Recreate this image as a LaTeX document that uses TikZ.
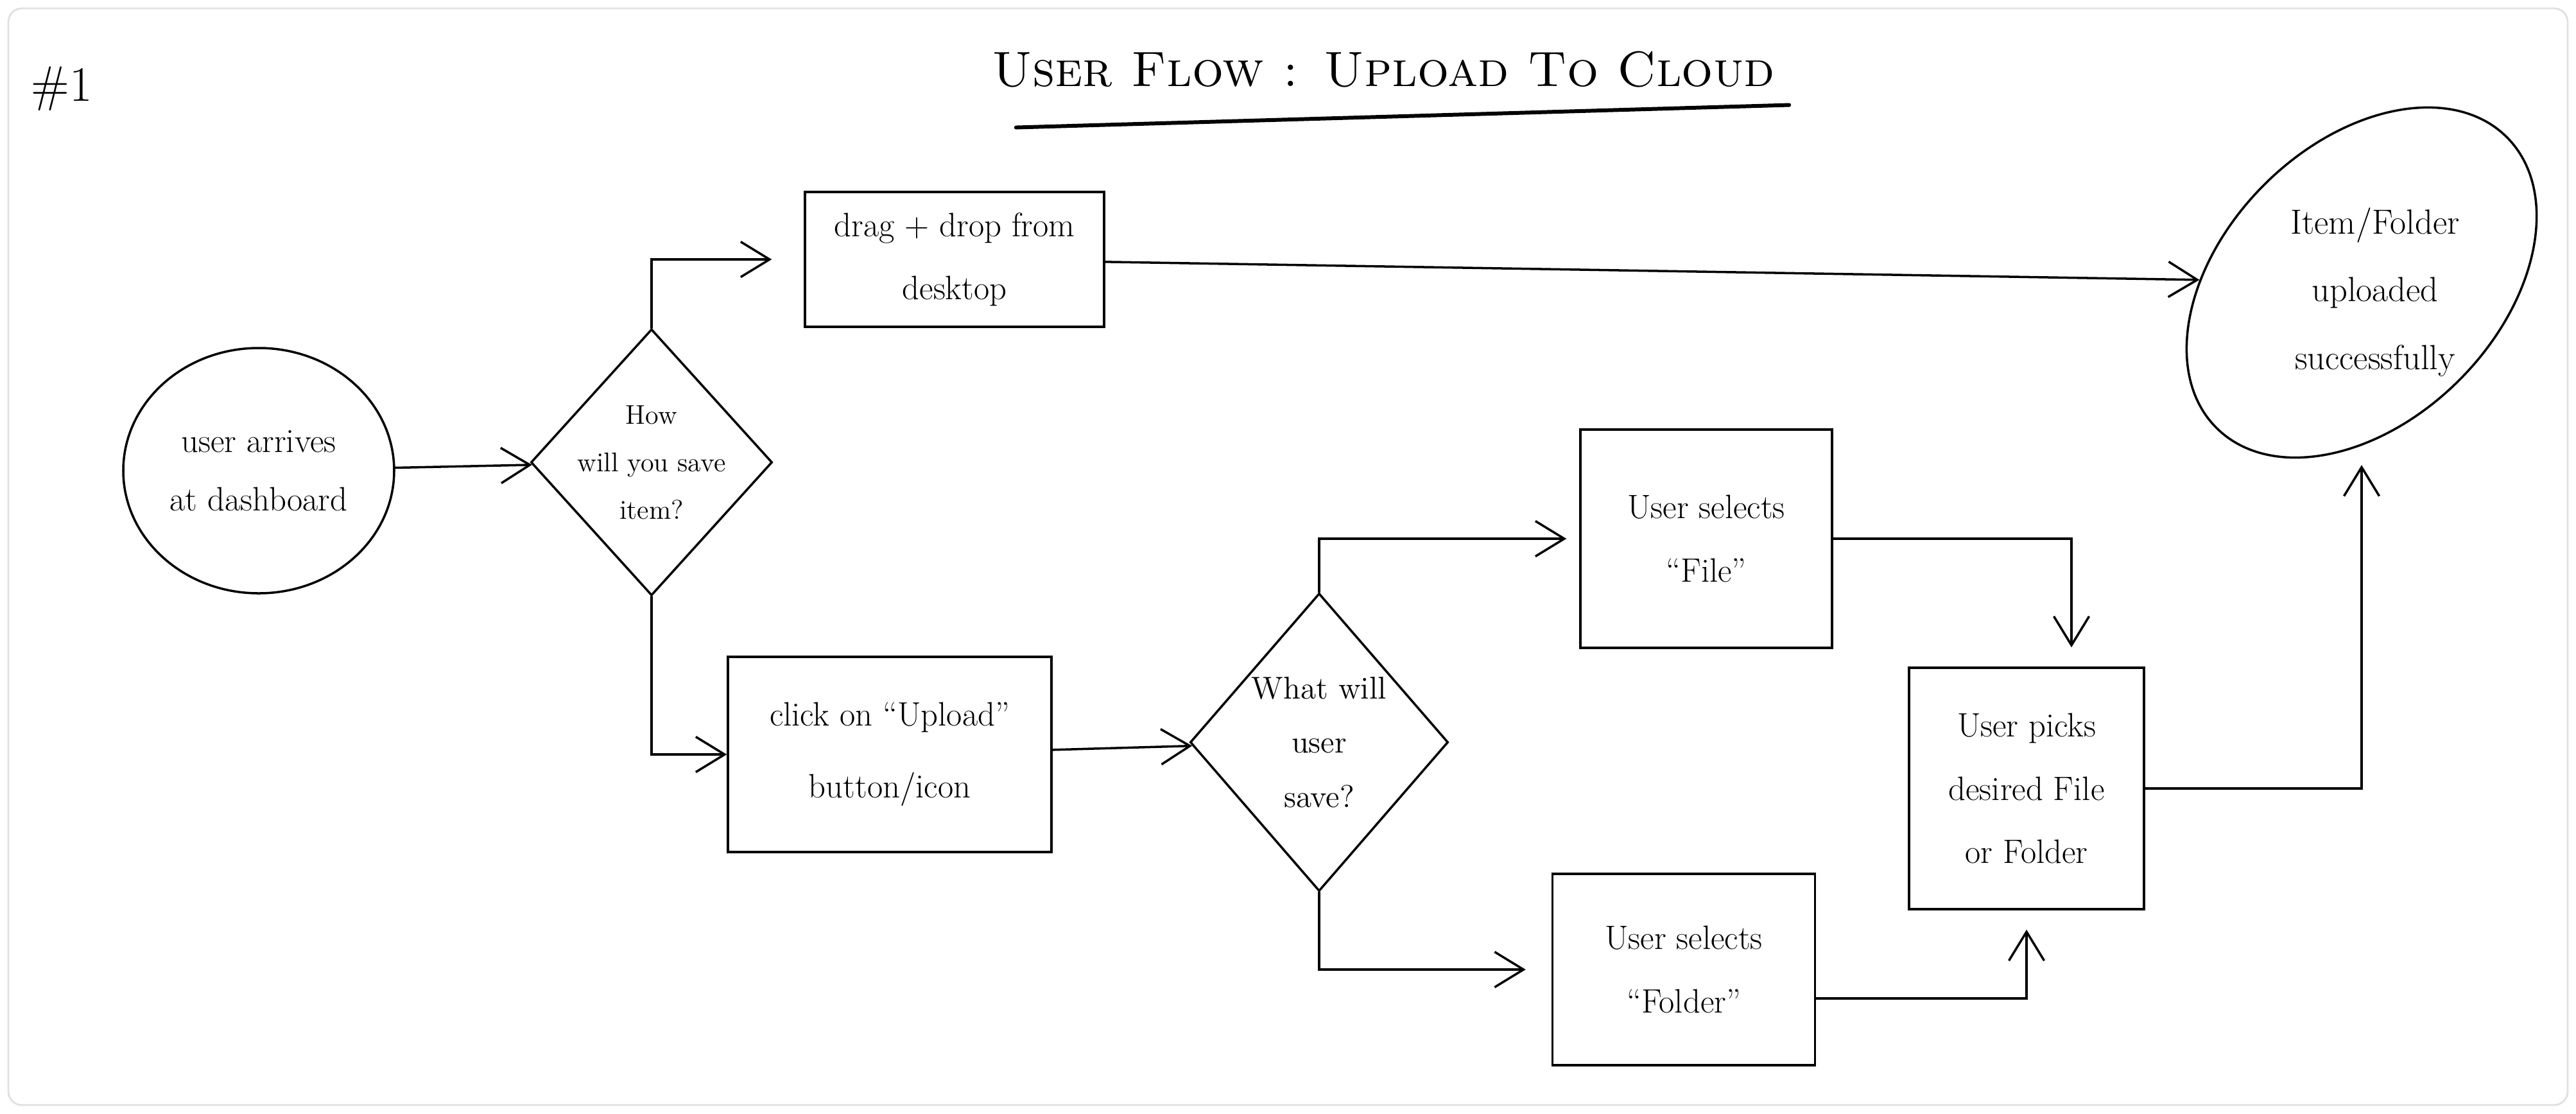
\documentclass[tikz,border=0pt]{standalone}
\usepackage{tikz}
\usetikzlibrary{
    arrows.meta,
    positioning,
    shapes.geometric
}
\tikzset{
    % --- Process step (plain rectangle) ---
    process box/.style = {
        rectangle, draw, line width=1pt,
        inner sep=2pt, align=center,
        font=\fontsize{15}{28}\selectfont
    },
    % --- Decision diamond ---
    decision/.style = {
        diamond, draw, line width=1pt,
        inner sep=0pt, align=center
    },
    % --- Start / end ellipse ---
    terminal/.style = {
        ellipse, draw, line width=1pt,
        inner sep=0pt, align=center,
        font=\fontsize{15}{26}\selectfont
    },
    % --- Flow arrow ---
    flow/.style = {
        ->, line width=1pt
    },
    % --- Sheet frame ---
    sheet frame/.style = {
        draw=black!12, line width=0.8pt, rounded corners=6pt
    }
}

\begin{document}
\begin{tikzpicture}[
    >={Straight Barb[length=4.5mm,width=5.5mm]},
    line cap=round
]

\useasboundingbox (0,0) rectangle (40.13,-17.34);
\draw[sheet frame] (0.13,-0.13) rectangle (40.0,-17.21);

% ---------------------------------------------------------
% 1. Heading
% ---------------------------------------------------------
\node[font=\fontsize{22}{22}\selectfont] (sheetno) at (0.96,-1.38) {\#1};
\node[font=\fontsize{22}{26}\selectfont\scshape] (title) at (21.55,-1.08)
    {User Flow : Upload To Cloud};
\draw[line width=1.7pt] ([xshift=0.5cm,yshift=-0.5cm]title.south west)
    -- ([xshift=0.1cm,yshift=-0.15cm]title.south east);

% ---------------------------------------------------------
% 2. Start and first decision
% ---------------------------------------------------------
\node[terminal, minimum width=4.22cm, minimum height=3.82cm] (start) at (4.03,-7.33)
    {user arrives\\at dashboard};
\node[decision, aspect=0.9, inner sep=-3pt, minimum width=3.76cm, minimum height=4.15cm,
    font=\fontsize{12}{21}\selectfont] (howsave) at (10.15,-7.2)
    {How\\will you save\\item?};

% ---------------------------------------------------------
% 3. The two ways to upload
% ---------------------------------------------------------
\node[process box, minimum width=4.66cm, minimum height=2.1cm] (dragdrop) at (14.87,-4.04)
    {drag + drop from\\desktop};
\node[process box, minimum width=5.04cm, minimum height=3.04cm,
    font=\fontsize{15}{32}\selectfont] (clickup) at (13.86,-11.75)
    {click on ``Upload''\\button/icon};
\node[decision, aspect=0.87, inner sep=-2pt, minimum width=4.02cm, minimum height=4.64cm,
    font=\fontsize{14}{24}\selectfont] (whatsave) at (20.55,-11.56)
    {What will\\user\\save?};

% ---------------------------------------------------------
% 4. File or folder
% ---------------------------------------------------------
\node[process box, minimum width=3.92cm, minimum height=3.4cm] (selfile) at (26.58,-8.39)
    {User selects\\``File''};
\node[process box, minimum width=4.09cm, minimum height=2.98cm] (selfolder) at (26.23,-15.10)
    {User selects\\``Folder''};
\node[process box, minimum width=3.66cm, minimum height=3.76cm] (picks) at (31.57,-12.28)
    {User picks\\desired File\\or Folder};

% ---------------------------------------------------------
% 5. End
% ---------------------------------------------------------
\node[terminal, rotate=45, minimum width=6.4cm, minimum height=4.3cm] (done) at (36.79,-4.40) {};
\node[font=\fontsize{15.5}{30}\selectfont, align=center] (donetext) at (37.0,-4.55)
    {Item/Folder\\uploaded\\successfully};

% ---------------------------------------------------------
% 6. Wiring
% ---------------------------------------------------------
\draw[flow] (start) -- (howsave);
\draw[flow, shorten >=0.5cm] (howsave.north) |- (dragdrop.west);
\draw[flow] (dragdrop) -- (done);
\draw[flow] (howsave.south) |- (clickup.west);
\draw[flow] (clickup) -- (whatsave);
\draw[flow, shorten >=0.2cm] (whatsave.north) |- (selfile.west);
\draw[flow, shorten >=0.4cm] (whatsave.south) |- (selfolder.west);
\draw[flow, shorten >=0.3cm] (selfile.east) -| ([xshift=0.7cm]picks.north);
\draw[flow, shorten >=0.3cm] ([yshift=-0.45cm]selfolder.east) -| (picks.south);
\draw[flow, shorten >=0.3cm] (picks.east) -| (done);

\end{tikzpicture}
\end{document}
